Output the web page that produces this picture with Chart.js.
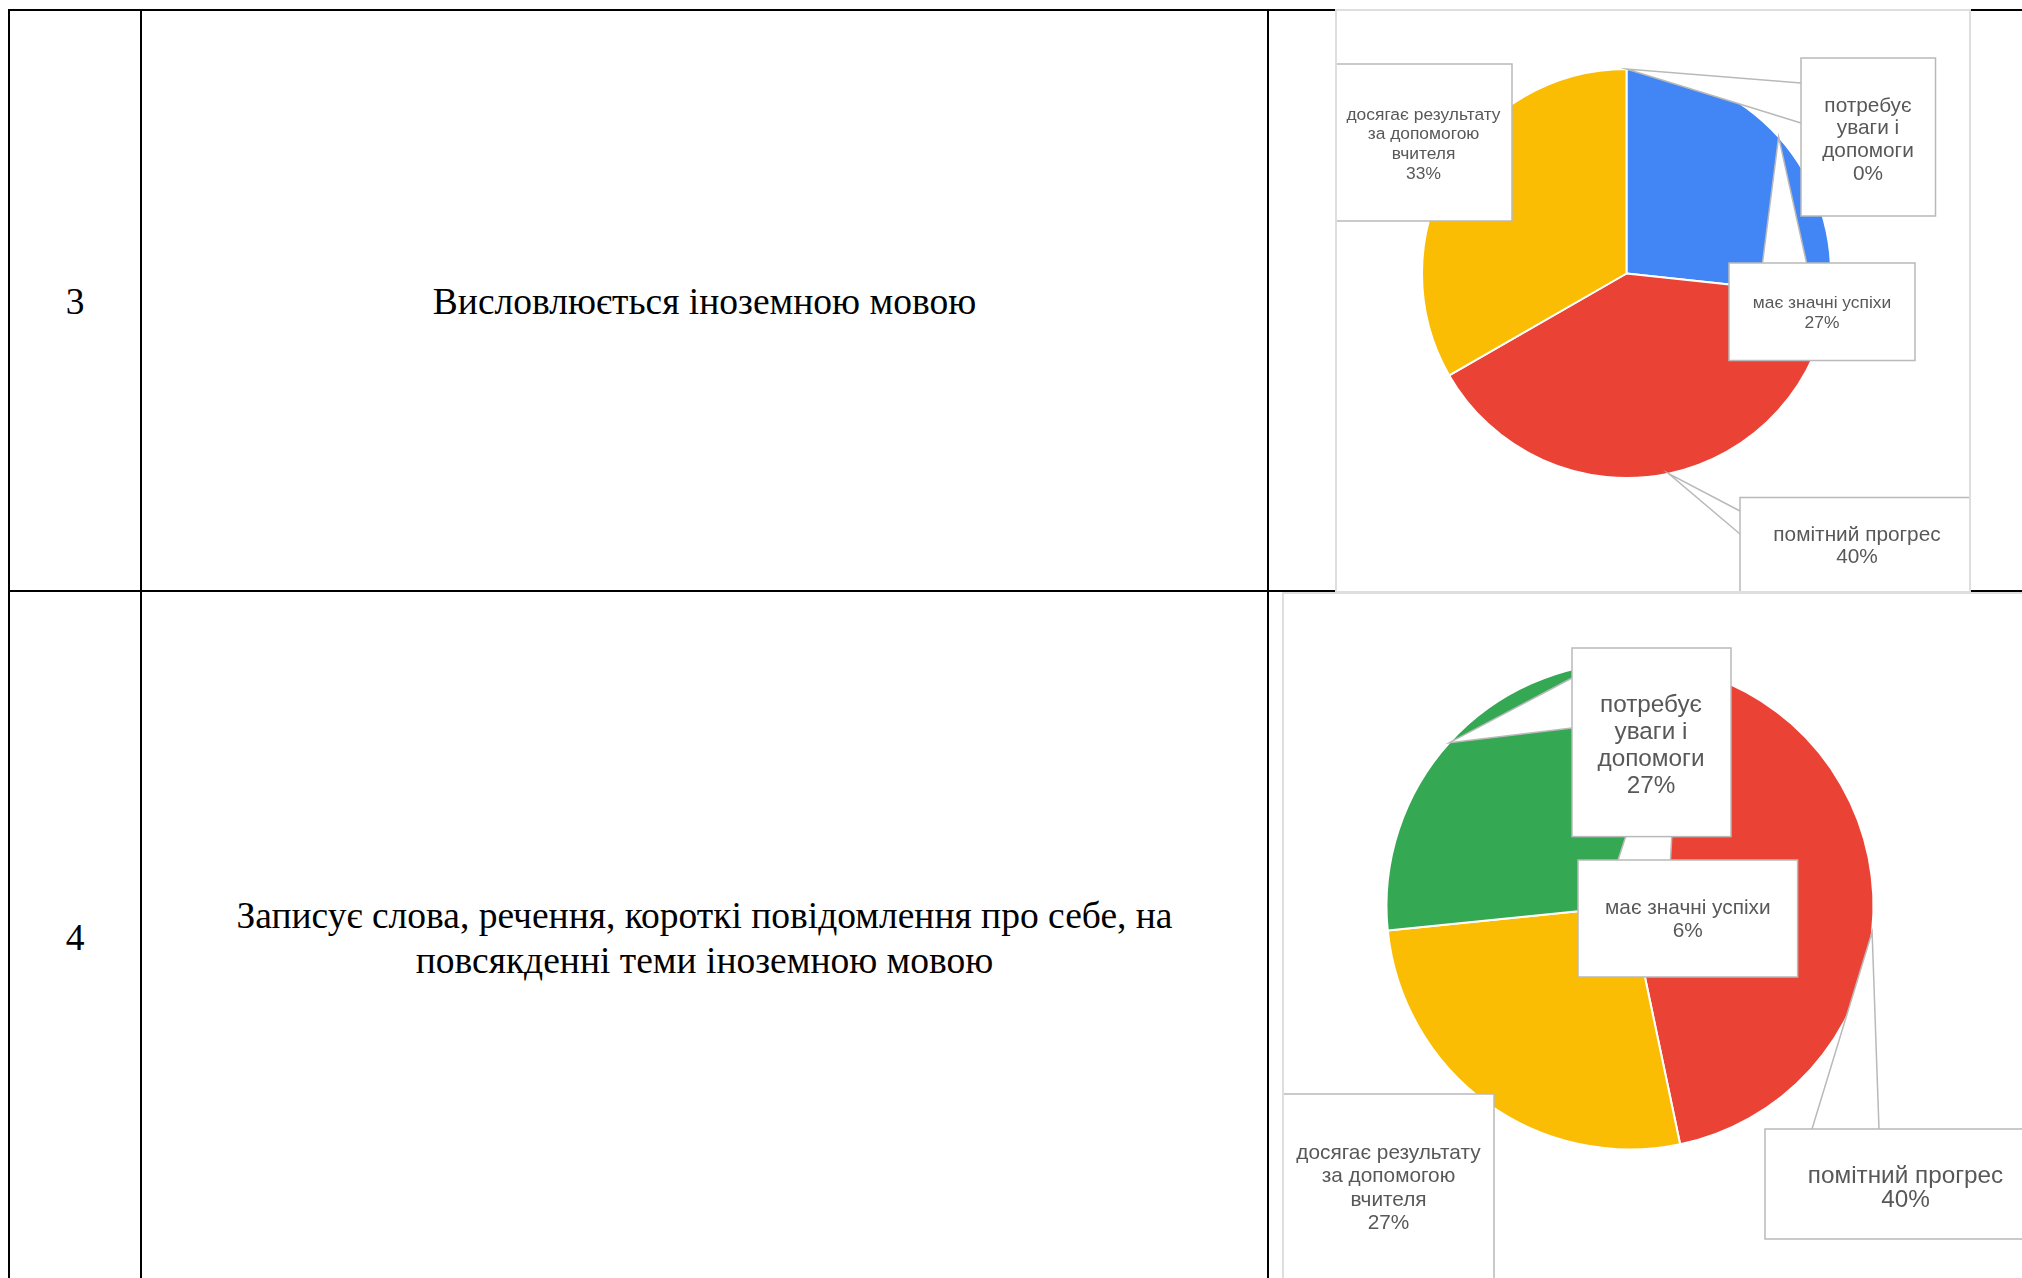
<!DOCTYPE html>
<html>
<head>
<meta charset="utf-8">
<script src="https://cdn.jsdelivr.net/npm/chart.js@4.4.0/dist/chart.umd.min.js"></script>
<style>
  html, body { margin: 0; padding: 0; background: #fff; width: 2022px; height: 1278px; overflow: hidden; position: relative; }
  .line { position: absolute; background: #000; }
  .cell-text { position: absolute; font-family: 'Liberation Serif', 'Times New Roman', serif; font-size: 37.5px; color: #000; text-align: center; line-height: 45px; }
  .frame { position: absolute; box-sizing: border-box; border: 2px solid #dedede; overflow: hidden; background: #fff; }
  .frame canvas { position: absolute; left: -2px; top: -2px; }
</style>
</head>
<body>
<!-- table grid -->
<div class="line" style="left:8px;top:9px;width:2014px;height:2px"></div>
<div class="line" style="left:8px;top:590px;width:2014px;height:2px"></div>
<div class="line" style="left:8px;top:9px;width:2px;height:1269px"></div>
<div class="line" style="left:140px;top:9px;width:2px;height:1269px"></div>
<div class="line" style="left:1267px;top:9px;width:2px;height:1269px"></div>

<div class="cell-text" style="left:10px;top:279px;width:130px">3</div>
<div class="cell-text" style="left:142px;top:279px;width:1125px">Висловлюється іноземною мовою</div>
<div class="cell-text" style="left:10px;top:915px;width:130px">4</div>
<div class="cell-text" style="left:142px;top:893px;width:1125px">Записує слова, речення, короткі повідомлення про себе, на<br>повсякденні теми іноземною мовою</div>

<div class="frame" style="left:1335px;top:9px;width:636px;height:584px"><canvas id="pie3" width="636" height="584"></canvas></div>
<div class="frame" style="left:1282px;top:592px;width:760px;height:700px"><canvas id="pie4" width="760" height="700"></canvas></div>

<script>
const labelLines = [
  ['має значні успіхи'],
  ['помітний прогрес'],
  ['досягає результату', 'за допомогою', 'вчителя'],
  ['потребує', 'уваги і', 'допомоги']
]
const sliceColors = ['#4285F4', '#EA4335', '#FBBC04', '#34A853']

// row 3: Висловлюється іноземною мовою
const values3 = [26.7, 40, 33.3, 0]
const pct3 = ['27%', '40%', '33%', '0%']

// row 4: Записує слова ...
const values4 = [6.7, 40, 26.7, 26.6]
const pct4 = ['6%', '40%', '27%', '27%']

// callout boxes (canvas px), tail base points, text start + line height
const callouts3 = [
  { index: 2, box: [-1, 55, 178, 157], tail: null, cx: 88.5, ty: 106, lh: 19.7, size: 17.4 },
  { index: 3, box: [466, 49, 134.5, 158], tail: [[466, 74], [466, 114]], cx: 533, ty: 97, lh: 22.7, size: 20.8 },
  { index: 0, box: [394, 254, 186, 97.5], tail: [[427.5, 254], [471.6, 254]], cx: 487, ty: 294.5, lh: 19.5, size: 17.4 },
  { index: 1, box: [405, 488.5, 240, 110], tail: [[405, 502], [405, 525]], cx: 522, ty: 526, lh: 22, size: 20.8 }
]
const callouts4 = [
  { index: 3, box: [290, 56, 159, 188.6], tail: [[290, 86], [290, 136]], cx: 369, ty: 113, lh: 27.2, size: 24.3 },
  { index: 0, box: [296, 268, 219.6, 117], tail: [[336, 268], [388.5, 268]], cx: 405.8, ty: 316, lh: 23.4, size: 20.8 },
  { index: 1, box: [483, 537, 300, 110], tail: [[530, 537], [597, 537]], cx: 623.5, ty: 584, lh: 24, size: 24.3 },
  { index: 2, box: [1, 502, 211, 220], tail: null, cx: 106.5, ty: 561, lh: 23.4, size: 20.8 }
]

function anchorOf(arc) {
  const p = arc.getProps(['x', 'y', 'startAngle', 'endAngle', 'outerRadius'], true)
  const mid = (p.startAngle + p.endAngle) / 2
  return [p.x + Math.cos(mid) * p.outerRadius, p.y + Math.sin(mid) * p.outerRadius]
}

const calloutPlugin = {
  id: 'callouts',
  afterDatasetsDraw(chart, args, opts) {
    const ctx = chart.ctx
    const arcs = chart.getDatasetMeta(0).data
    ctx.save()
    ctx.strokeStyle = '#b9b9b9'
    ctx.lineWidth = 1.5
    // tails first, boxes go on top of them
    opts.items.forEach(c => {
      if (!c.tail) return
      const [ax, ay] = anchorOf(arcs[c.index])
      ctx.beginPath()
      ctx.moveTo(c.tail[0][0], c.tail[0][1])
      ctx.lineTo(ax, ay)
      ctx.lineTo(c.tail[1][0], c.tail[1][1])
      ctx.closePath()
      ctx.fillStyle = '#fff'
      ctx.fill()
      ctx.beginPath()
      ctx.moveTo(c.tail[0][0], c.tail[0][1])
      ctx.lineTo(ax, ay)
      ctx.lineTo(c.tail[1][0], c.tail[1][1])
      ctx.stroke()
    })
    opts.items.forEach(c => {
      const [bx, by, bw, bh] = c.box
      ctx.fillStyle = '#fff'
      ctx.fillRect(bx, by, bw, bh)
      ctx.strokeRect(bx, by, bw, bh)
      ctx.fillStyle = '#585858'
      ctx.font = c.size + 'px "Liberation Sans", Arial, sans-serif'
      ctx.textAlign = 'center'
      ctx.textBaseline = 'middle'
      const lines = labelLines[c.index].concat(opts.pct[c.index])
      lines.forEach((t, i) => ctx.fillText(t, c.cx, c.ty + i * c.lh))
    })
    ctx.restore()
  }
}

function createPie(id, values, pct, callouts, radius, padding) {
  const config = {
    type: 'pie',
    data: {
      labels: labelLines.map(l => l.join(' ')),
      datasets: [{
        data: values,
        backgroundColor: sliceColors,
        borderColor: '#ffffff',
        borderWidth: 2,
        radius: radius
      }]
    },
    options: {
      responsive: false,
      animation: false,
      layout: { padding: padding },
      plugins: {
        legend: { display: false },
        tooltip: { enabled: false },
        callouts: { items: callouts, pct: pct }
      }
    },
    plugins: [calloutPlugin]
  }
  new Chart(document.getElementById(id), config)
}

createPie('pie3', values3, pct3, callouts3, 204.5, { left: 87, top: 60, right: 140, bottom: 115 })
createPie('pie4', values4, pct4, callouts4, 243.5, { left: 104.5, top: 70.5, right: 168.5, bottom: 142.5 })
</script>
</body>
</html>
